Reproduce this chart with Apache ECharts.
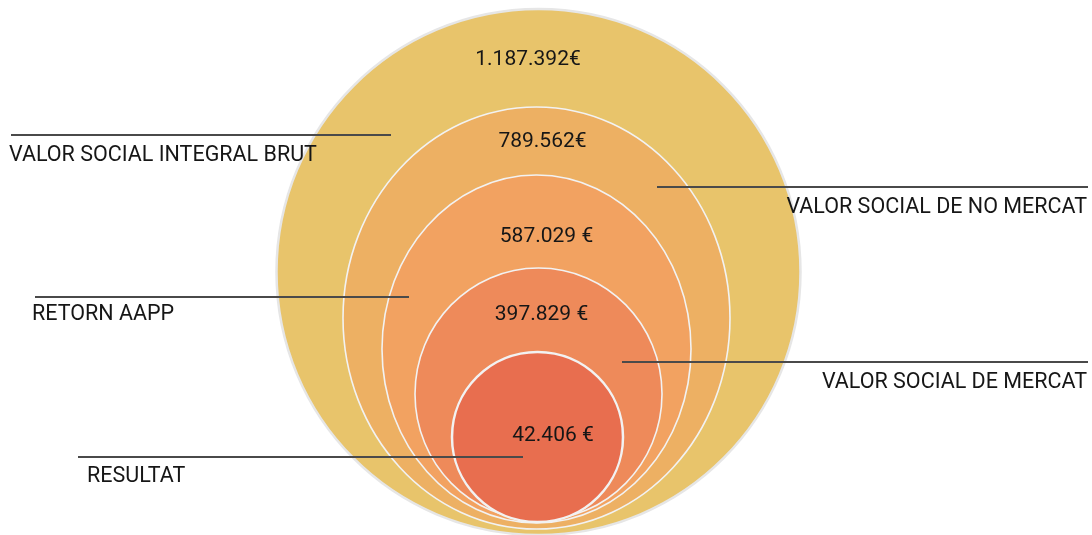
<!DOCTYPE html>
<html><head><meta charset="utf-8">
<script src="https://cdn.jsdelivr.net/npm/echarts@6/dist/echarts.min.js"></script>
<style>html,body{margin:0;padding:0;background:#fff}#c{width:1092px;height:535px}</style>
</head><body><div id="c"></div>
<script>
// ---- data ----
const categories = ['VALOR SOCIAL INTEGRAL BRUT', 'VALOR SOCIAL DE NO MERCAT', 'RETORN AAPP', 'VALOR SOCIAL DE MERCAT', 'RESULTAT'];
const values = [1187392, 789562, 587029, 397829, 42406];
const valueLabels = ['1.187.392€', '789.562€', '587.029 €', '397.829 €', '42.406 €'];

// ---- layout / style (not data) ----
const colors = ['#E8C46B', '#EDB063', '#F2A261', '#EE8A5A', '#E86E4F'];
// ellipse geometry in canvas units: [cx, cy, rx, ry]
const ellipseLayout = [[538.5, 272, 262, 263], [536.5, 318, 193.5, 211], [536.5, 349, 154.5, 174], [538.5, 394, 123.5, 126], [537.5, 437, 85.5, 85]];
const valueLabelPos = [[528, 60], [542.5, 142], [546.5, 237], [541.5, 315], [553, 436]];
// leader lines: [x1, x2, y, textX, textY, align]
const leaderLayout = [
  [11, 391, 135, 9, 156, 'left'],
  [657, 1088, 187, 1087, 208, 'right'],
  [35, 409, 297, 32, 315, 'left'],
  [622, 1088, 362, 1087, 382.5, 'right'],
  [78, 523, 457, 87, 477, 'left']
];

const chart = echarts.init(document.getElementById('c'), null, {renderer: 'canvas'});
const FONT = 'Roboto, "Noto Sans", sans-serif';

chart.setOption({
  animation: false,
  backgroundColor: '#ffffff',
  grid: {left: 0, right: 0, top: 0, bottom: 0},
  xAxis: {type: 'value', min: 0, max: 1092, show: false},
  yAxis: {type: 'value', min: 0, max: 535, inverse: true, show: false},
  series: [
    {
      type: 'custom',
      z: 2,
      data: values.map((v, i) => [i, v]),
      renderItem: function (params, api) {
        const i = params.dataIndex;
        const e = ellipseLayout[i];
        const c = api.coord([e[0], e[1]]);
        const s = api.size([e[2], e[3]]);
        const strokeColor = i === 0 ? '#e6e6e6' : '#f2f2f2';
        const lw = i === 0 ? 2.5 : (i === 4 ? 2.5 : 1.6);
        const p = api.coord(valueLabelPos[i]);
        return {
          type: 'group',
          children: [
            {
              type: 'ellipse',
              shape: {cx: c[0], cy: c[1], rx: s[0], ry: s[1]},
              style: {fill: colors[i], stroke: strokeColor, lineWidth: lw}
            },
            {
              type: 'text',
              z2: 10,
              style: {
                text: valueLabels[i],
                x: p[0], y: p[1],
                align: 'center', verticalAlign: 'middle',
                font: '21px ' + FONT,
                fill: '#161616'
              }
            }
          ]
        };
      }
    },
    {
      type: 'custom',
      z: 5,
      data: categories.map((c, i) => [i, values[i]]),
      renderItem: function (params, api) {
        const i = params.dataIndex;
        const L = leaderLayout[i];
        const a = api.coord([L[0], L[2]]);
        const b = api.coord([L[1], L[2]]);
        const t = api.coord([L[3], L[4]]);
        return {
          type: 'group',
          children: [
            {
              type: 'line',
              shape: {x1: a[0], y1: a[1], x2: b[0], y2: b[1]},
              style: {stroke: '#4a4a4a', lineWidth: 2}
            },
            {
              type: 'text',
              style: {
                text: categories[i],
                x: t[0], y: t[1],
                align: L[5], verticalAlign: 'middle',
                font: '21.5px ' + FONT,
                fill: '#161616'
              }
            }
          ]
        };
      }
    }
  ]
});
</script>
</body></html>
